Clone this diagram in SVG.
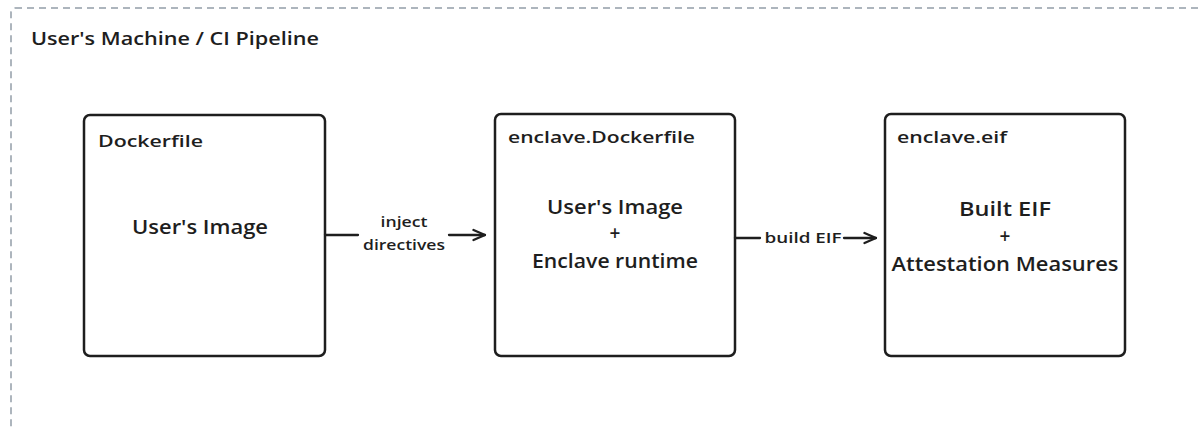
<svg xmlns="http://www.w3.org/2000/svg" width="1199" height="427" viewBox="0 0 1199 427">
  <defs>
    <marker id="arrow" viewBox="0 0 14 14" refX="13" refY="7" markerWidth="14" markerHeight="14" markerUnits="userSpaceOnUse" orient="auto">
      <path d="M1.5,2 L13,7 L1.5,12" fill="none" stroke="#1e1e1e" stroke-width="2.3" stroke-linecap="round" stroke-linejoin="round"/>
    </marker>
  </defs>
  <style>
    .frame { fill: none; stroke: #adb5bd; stroke-width: 2; stroke-dasharray: 7 5; }
    .box { fill: #ffffff; stroke: #1e1e1e; stroke-width: 2.5; }
    .edge { fill: none; stroke: #1e1e1e; stroke-width: 2.3; stroke-linecap: round; }
    text { font-family: "Open Sans", "Noto Sans", sans-serif; fill: #1e1e1e; font-weight: 600; }
    .title { font-size: 18px; }
    .head { font-size: 17px; }
    .body { font-size: 19px; text-anchor: middle; }
    .lbl { font-size: 14px; text-anchor: middle; }
  </style>
  <rect width="1199" height="427" fill="#ffffff"/>

  <!-- outer environment frame -->
  <g id="environment">
    <rect class="frame" x="11" y="8" width="1220" height="440" rx="4"/>
    <text class="title" x="31" y="45" textLength="288" lengthAdjust="spacingAndGlyphs">User's Machine / CI Pipeline</text>
  </g>

  <!-- source Dockerfile -->
  <g id="dockerfile">
    <rect class="box" x="84" y="115" width="241" height="241" rx="6"/>
    <text class="head" x="98" y="147" textLength="105" lengthAdjust="spacingAndGlyphs">Dockerfile</text>
    <text class="body" x="200" y="234" textLength="136" lengthAdjust="spacingAndGlyphs">User's Image</text>
  </g>

  <!-- generated enclave Dockerfile -->
  <g id="enclave-dockerfile">
    <rect class="box" x="495" y="114" width="240" height="242" rx="6"/>
    <text class="head" x="508" y="143" textLength="187" lengthAdjust="spacingAndGlyphs">enclave.Dockerfile</text>
    <text class="body" x="615" y="214" textLength="136" lengthAdjust="spacingAndGlyphs">User's Image</text>
    <text class="body" x="615" y="240">+</text>
    <text class="body" x="615" y="268" textLength="166" lengthAdjust="spacingAndGlyphs">Enclave runtime</text>
  </g>

  <!-- built enclave image file -->
  <g id="enclave-eif">
    <rect class="box" x="885" y="114" width="240" height="242" rx="6"/>
    <text class="head" x="897" y="143" textLength="110" lengthAdjust="spacingAndGlyphs">enclave.eif</text>
    <text class="body" x="1005" y="216" textLength="92" lengthAdjust="spacingAndGlyphs">Built EIF</text>
    <text class="body" x="1005" y="243">+</text>
    <text class="body" x="1005" y="271" textLength="227" lengthAdjust="spacingAndGlyphs">Attestation Measures</text>
  </g>

  <!-- connectors -->
  <g id="connectors">
    <line class="edge" x1="325" y1="235" x2="358" y2="235"/>
    <line class="edge" x1="449" y1="235" x2="485" y2="235" marker-end="url(#arrow)"/>
    <text class="lbl" x="404" y="227" textLength="47" lengthAdjust="spacingAndGlyphs">inject</text>
    <text class="lbl" x="404" y="250" textLength="82" lengthAdjust="spacingAndGlyphs">directives</text>

    <line class="edge" x1="735" y1="238" x2="760" y2="238"/>
    <line class="edge" x1="844" y1="238" x2="876" y2="238" marker-end="url(#arrow)"/>
    <text class="lbl" x="803" y="243" textLength="77" lengthAdjust="spacingAndGlyphs">build EIF</text>
  </g>
</svg>
